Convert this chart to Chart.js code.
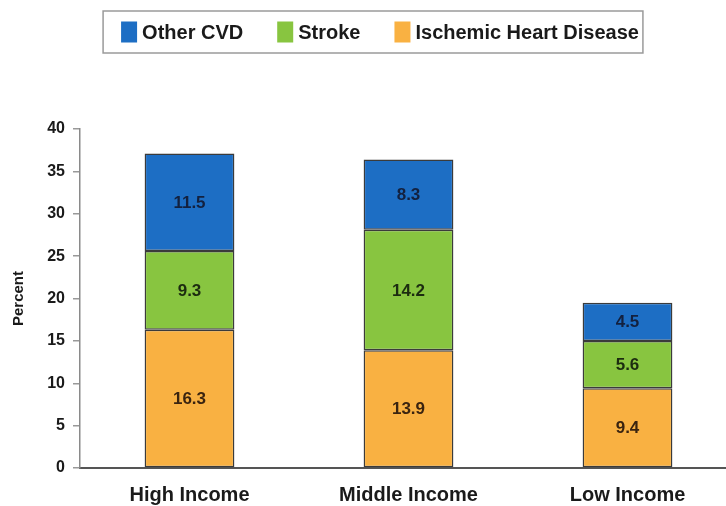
<!DOCTYPE html>
<html>
<head>
<meta charset="utf-8">
<script src="https://cdn.jsdelivr.net/npm/chart.js@4/dist/chart.umd.min.js"></script>
<style>
  html, body { margin: 0; padding: 0; background: #fff; overflow: hidden; }
  #wrap { width: 740px; height: 506px; }
</style>
</head>
<body>
<div id="wrap"><canvas id="c" width="740" height="506"></canvas></div>
<script>
// Share of deaths by cardiovascular cause, by country income group
const categories = ['High Income', 'Middle Income', 'Low Income'];
const ischemic = [16.3, 13.9, 9.4];
const stroke = [9.3, 14.2, 5.6];
const otherCvd = [11.5, 8.3, 4.5];
const yTicks = [0, 5, 10, 15, 20, 25, 30, 35, 40];

const FONT = '"Liberation Sans", Arial, sans-serif';

// Series drawn bottom-up; legend lists them top-down
const series = [
  { label: 'Ischemic Heart Disease', data: ischemic, color: '#f9b142', text: '#3a2410' },
  { label: 'Stroke', data: stroke, color: '#88c540', text: '#1c2c10' },
  { label: 'Other CVD', data: otherCvd, color: '#1d6ec4', text: '#13213f' }
];

// Legend in a framed box above the plot
const boxedLegend = {
  id: 'boxedLegend',
  afterDraw(chart) {
    const ctx = chart.ctx;
    const items = chart.data.datasets.map(d => ({ label: d.label, color: d.backgroundColor })).reverse();
    const fontSize = 20, boxW = 16, boxH = 21, gapBoxText = 5, gapItems = 34;
    ctx.save();
    ctx.font = 'bold ' + fontSize + 'px ' + FONT;
    const widths = items.map(it => boxW + gapBoxText + ctx.measureText(it.label).width);
    const total = widths.reduce((a, b) => a + b, 0) + gapItems * (items.length - 1);
    const cx = 380, cy = 32;
    let x = cx - total / 2;
    // frame
    ctx.strokeStyle = '#9a9a9a';
    ctx.lineWidth = 1.5;
    ctx.strokeRect(x - 18, 11, total + 22, 42);
    ctx.textBaseline = 'middle';
    ctx.textAlign = 'left';
    items.forEach((it, i) => {
      ctx.fillStyle = it.color;
      ctx.fillRect(x, cy - boxH / 2, boxW, boxH);
      ctx.fillStyle = '#1a1a1a';
      ctx.fillText(it.label, x + boxW + gapBoxText, cy + 1);
      x += widths[i] + gapItems;
    });
    ctx.restore();
  }
};

// Value printed in the middle of each stacked segment
const segmentLabels = {
  id: 'segmentLabels',
  afterDatasetsDraw(chart) {
    const ctx = chart.ctx;
    ctx.save();
    ctx.font = 'bold 17px ' + FONT;
    ctx.textAlign = 'center';
    ctx.textBaseline = 'middle';
    chart.data.datasets.forEach((ds, di) => {
      const meta = chart.getDatasetMeta(di);
      meta.data.forEach((bar, i) => {
        const p = bar.getProps(['x', 'y', 'base'], true);
        ctx.fillStyle = series[di].text;
        ctx.fillText(ds.data[i].toFixed(1), p.x, (p.y + p.base) / 2 + 1);
      });
    });
    ctx.restore();
  }
};

new Chart(document.getElementById('c'), {
  type: 'bar',
  data: {
    labels: categories,
    datasets: series.map(s => ({
      label: s.label,
      data: s.data,
      backgroundColor: s.color,
      borderColor: '#3b3b3b',
      borderWidth: 1.5,
      borderSkipped: false,
      barPercentage: 0.41,
      categoryPercentage: 1
    }))
  },
  options: {
    responsive: false,
    animation: false,
    devicePixelRatio: 1,
    layout: { padding: { left: 6, right: 3, top: 129, bottom: 0 } },
    plugins: {
      legend: { display: false },
      tooltip: { enabled: false }
    },
    scales: {
      x: {
        stacked: true,
        afterFit(scale) { scale.height = 38; },
        grid: { display: false, drawTicks: false },
        border: { display: true, color: '#555', width: 2 },
        ticks: {
          padding: 15,
          color: '#1a1a1a',
          font: { family: FONT, size: 20, weight: 'bold' }
        }
      },
      y: {
        stacked: true,
        min: 0,
        max: 40,
        afterFit(scale) { scale.width = 74; },
        afterBuildTicks(scale) { scale.ticks = yTicks.map(v => ({ value: v })); },
        grid: { display: true, drawOnChartArea: false, drawTicks: true, tickLength: 7, color: '#999', lineWidth: 1.5 },
        border: { display: true, color: '#8a8a8a', width: 1.5 },
        ticks: {
          padding: 8,
          color: '#1a1a1a',
          font: { family: FONT, size: 16, weight: 'bold' }
        },
        title: {
          display: true,
          text: 'Percent',
          color: '#1a1a1a',
          padding: { top: 4, bottom: 0 },
          font: { family: FONT, size: 15, weight: 'bold' }
        }
      }
    }
  },
  plugins: [segmentLabels, boxedLegend]
});
</script>
</body>
</html>
